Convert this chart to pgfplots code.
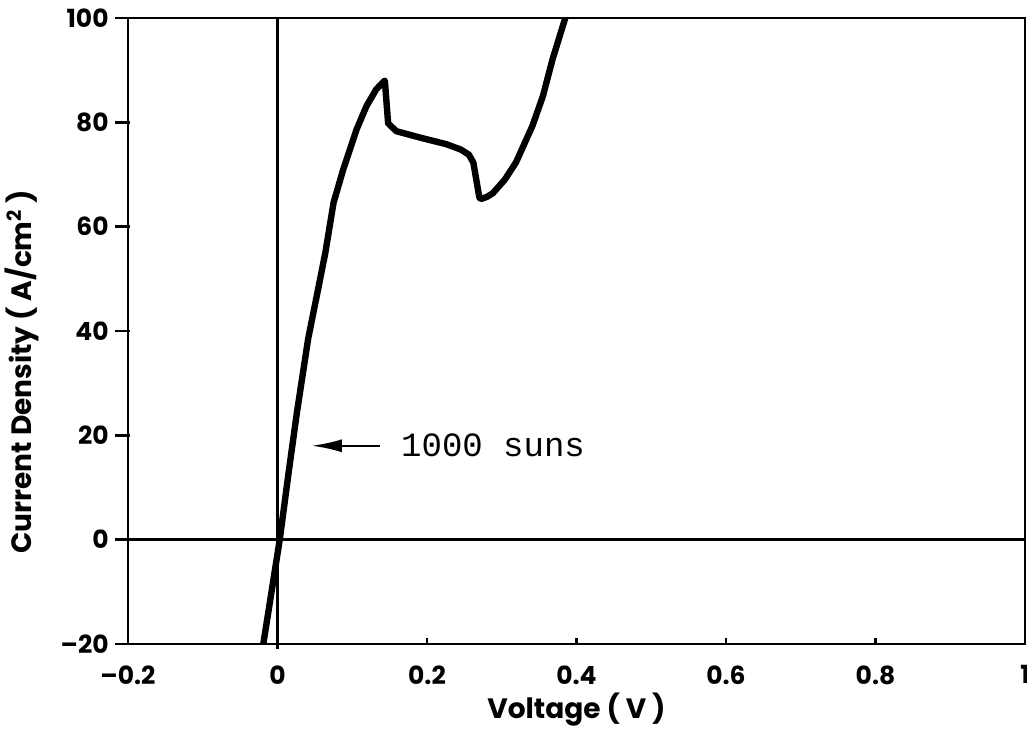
\documentclass[border=0pt]{standalone}
\usepackage{fontspec}
\usepackage{pgfplots}
\pgfplotsset{compat=1.18}
\usetikzlibrary{arrows.meta}
\newfontfamily\axfont{Poppins}
\newfontfamily\monofont{Liberation Mono}
\pgfplotstableread{
x y
-0.019 -20
0.003 0
0.015 13
0.026 24.4
0.041 38.5
0.055 48.5
0.064 55
0.075 64.6
0.088 71.0
0.106 78.7
0.119 83.1
0.132 86.3
0.140 87.5
0.1436 88.0
0.148 79.8
0.159 78.3
0.190 77.1
0.226 75.8
0.245 74.8
0.256 73.8
0.262 72.3
0.270 65.6
0.272 65.3
0.280 65.7
0.288 66.4
0.304 69
0.319 72.3
0.341 79.3
0.355 85
0.368 92.1
0.385 100
}\curve
\begin{document}
\begin{tikzpicture}
\path[use as bounding box] (-64pt,-42pt) rectangle (449.5pt,322pt);
\begin{axis}[
  scale only axis,
  width=448.5pt, height=313pt,
  xmin=-0.2, xmax=1, ymin=-20, ymax=100,
  xtick={-0.2,0,0.2,0.4,0.6,0.8,1},
  xticklabels={\textendash0.2,0,0.2,0.4,0.6,0.8,1},
  ytick={-20,0,20,40,60,80,100},
  yticklabels={\textendash20,0,20,40,60,80,100},
  tick pos=left,
  tick align=outside,
  major tick length=6.5pt,
  every tick/.style={draw=none},
  axis line style={line width=1.4pt},
  ticklabel style={font=\axfont\bfseries\fontsize{12.5}{14}\selectfont},
  yticklabel style={inner sep=0pt, xshift=-3pt},
  xticklabel style={inner sep=0pt, yshift=-4pt},
  xlabel={Voltage ( V )},
  ylabel={Current Density ( A/cm\textsuperscript{2} )},
  label style={font=\axfont\bfseries\fontsize{14}{16}\selectfont},
  xlabel style={at={(axis description cs:0.5,-0.104)}, anchor=center},
  ylabel style={at={(axis description cs:-0.118,0.435)}, anchor=center},
  clip=false,
]
% tick marks
\draw[line width=1.2pt] (axis cs:-0.2,-20) ++(1pt,0pt) -- ++(-7.5pt,0pt);
\draw[line width=1.2pt] (axis cs:-0.2,0) -- ++(-6.5pt,0pt);
\draw[line width=1.2pt] (axis cs:-0.2,20) ++(1pt,0pt) -- ++(-7.5pt,0pt);
\draw[line width=1.2pt] (axis cs:-0.2,40) ++(1pt,0pt) -- ++(-7.5pt,0pt);
\draw[line width=1.2pt] (axis cs:-0.2,60) ++(1pt,0pt) -- ++(-7.5pt,0pt);
\draw[line width=1.2pt] (axis cs:-0.2,80) ++(1pt,0pt) -- ++(-7.5pt,0pt);
\draw[line width=1.2pt] (axis cs:-0.2,100) ++(1pt,0pt) -- ++(-7.5pt,0pt);
\draw[line width=1.2pt] (axis cs:0,-20) ++(0pt,-2.5pt) -- ++(0pt,5pt);
\draw[line width=1.2pt] (axis cs:0.2,-20) -- ++(0pt,3pt);
\draw[line width=1.2pt] (axis cs:0.4,-20) -- ++(0pt,3pt);
\draw[line width=1.2pt] (axis cs:0.6,-20) -- ++(0pt,3pt);
\draw[line width=1.2pt] (axis cs:0.8,-20) -- ++(0pt,3pt);
% reference lines
\draw[line width=1.1pt] (axis cs:0,-20) -- (axis cs:0,100);
\draw[line width=1.2pt] (axis cs:-0.2,0) -- (axis cs:1,0);
\addplot[black, line width=3.2pt, line join=round, no markers] table[x=x,y=y] {\curve};
\draw[line width=1.1pt, -{Latex[length=15pt,width=6.5pt]}] (axis cs:0.137,18) -- (axis cs:0.046,18);
\node[anchor=west, inner sep=0pt, font=\monofont\fontsize{17}{20}\selectfont] at (axis cs:0.165,18) {1000 suns};
\end{axis}
\end{tikzpicture}
\end{document}
